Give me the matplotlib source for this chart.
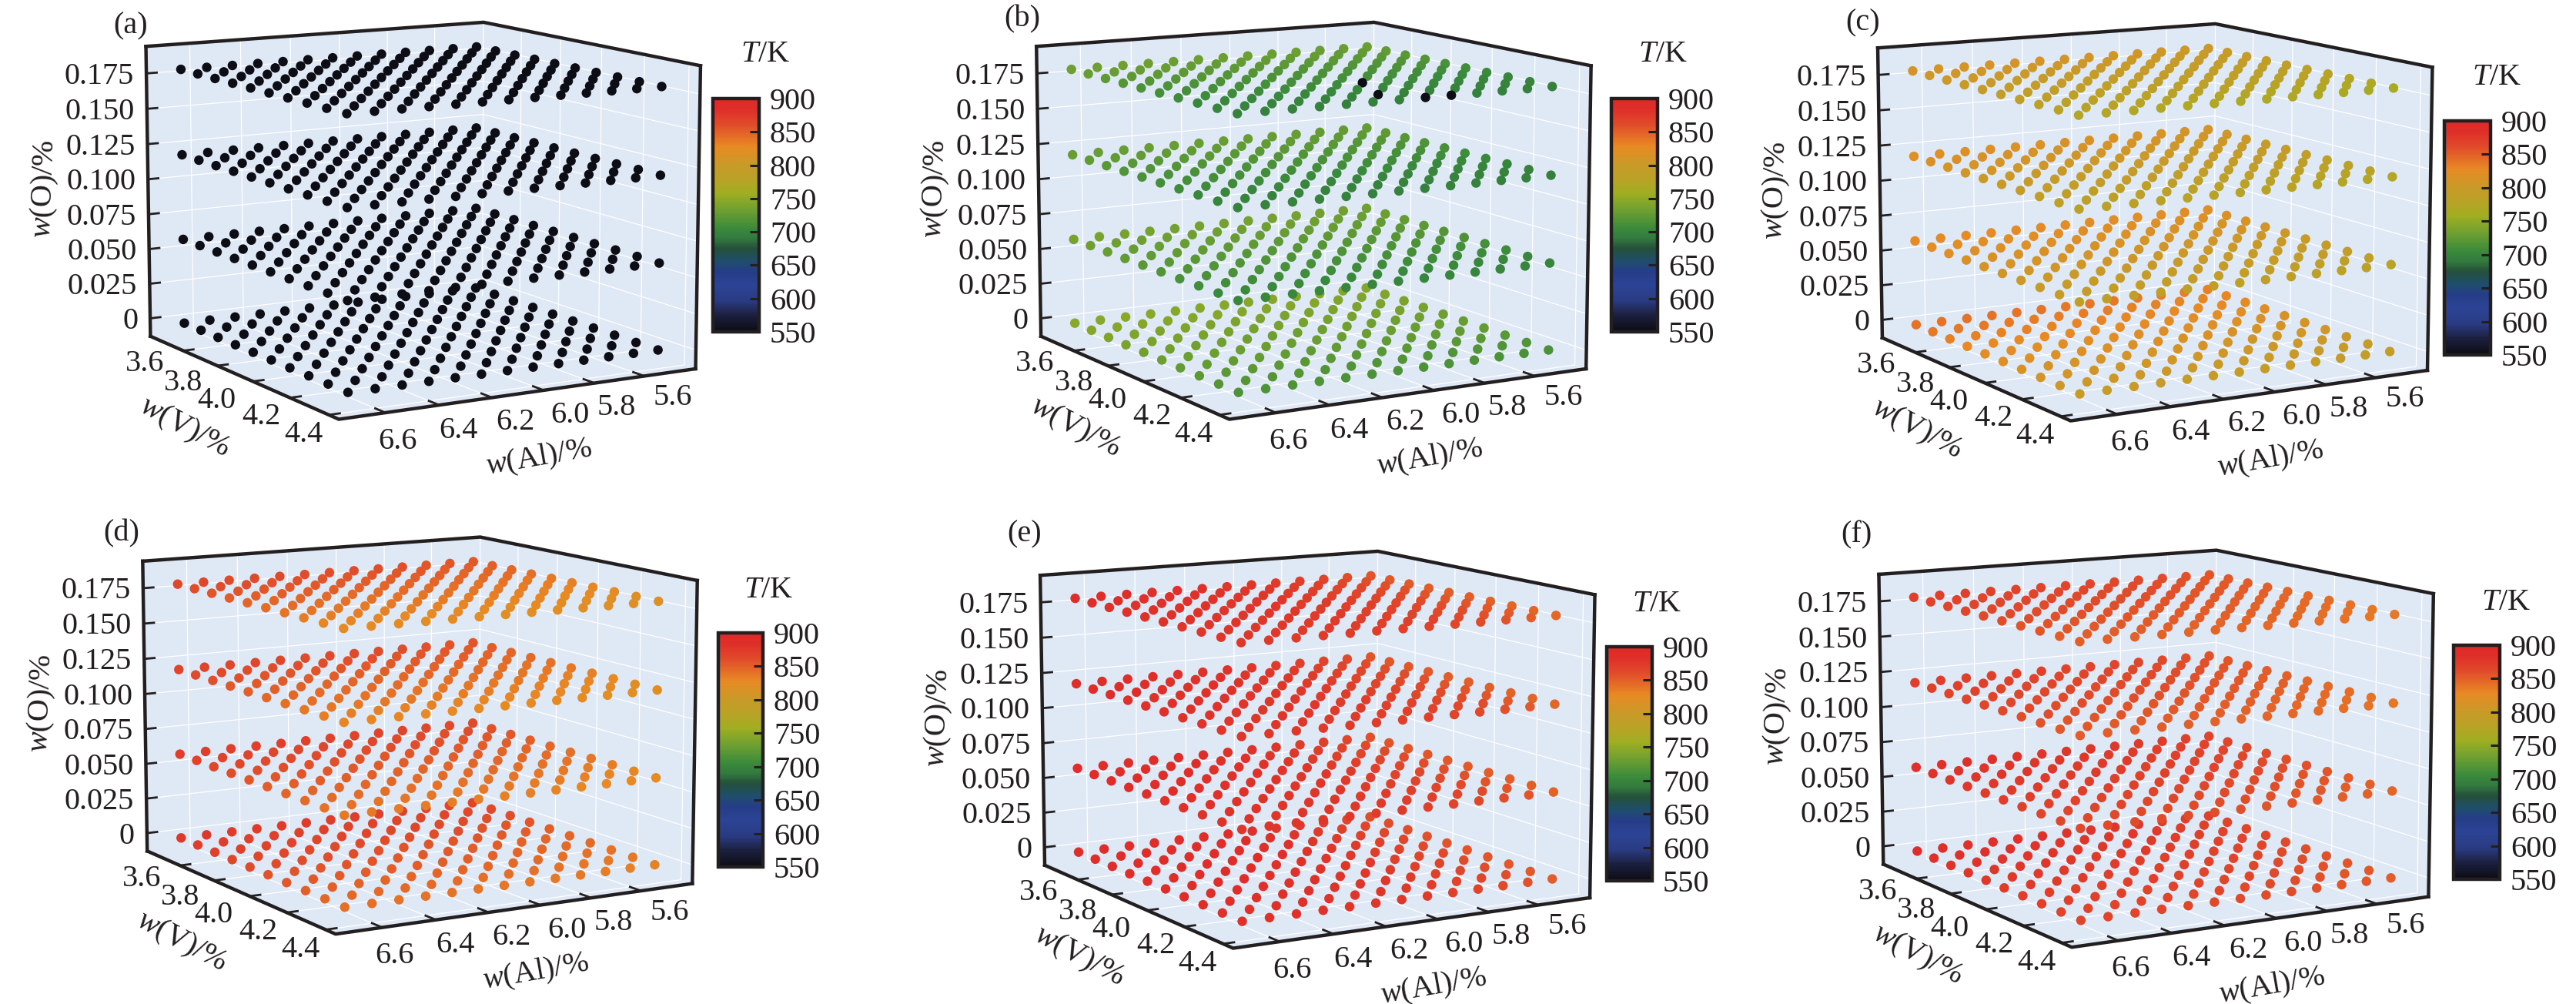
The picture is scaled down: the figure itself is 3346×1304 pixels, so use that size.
import numpy as np
import matplotlib
matplotlib.use('Agg')
import matplotlib.pyplot as plt
from matplotlib.cm import ScalarMappable
from matplotlib.colors import LinearSegmentedColormap, Normalize
from mpl_toolkits.mplot3d import proj3d
from mpl_toolkits.mplot3d.art3d import Poly3DCollection

plt.rcParams['font.family'] = ['Liberation Serif', 'DejaVu Sans']
plt.rcParams['mathtext.fontset'] = 'custom'
plt.rcParams['mathtext.rm'] = 'Liberation Serif'
plt.rcParams['mathtext.it'] = 'Liberation Serif:italic'

# composition grid of the points
al_vals = [6.7, 6.6, 6.5, 6.4, 6.3, 6.2, 6.1, 6.0, 5.9, 5.8, 5.7, 5.6, 5.5]
v_vals = [3.5, 3.6, 3.7, 3.8, 3.9, 4.0, 4.1, 4.2, 4.3, 4.4]
o_vals = [0, 0.06, 0.12, 0.18]

al_ticks = [6.6, 6.4, 6.2, 6.0, 5.8, 5.6]
v_ticks = [3.6, 3.8, 4.0, 4.2, 4.4]
o_ticks = [0, 0.025, 0.05, 0.075, 0.1, 0.125, 0.15, 0.175]
o_ticklabels = ['0', '0.025', '0.050', '0.075', '0.100', '0.125', '0.150', '0.175']
t_ticks = [550, 600, 650, 700, 750, 800, 850, 900]

# T: one row per oxygen level, one value per V level
T_a = [[552] * 10, [552] * 10, [552] * 10, [552] * 10]
T_b = [[745, 743, 740, 737, 733, 730, 726, 722, 718, 715],
       [735, 732, 728, 724, 720, 716, 712, 708, 704, 701],
       [728, 725, 721, 717, 713, 709, 705, 701, 699, 697],
       [731, 727, 723, 718, 714, 710, 706, 702, 699, 696]]
T_c = [[838, 834, 830, 825, 820, 815, 810, 806, 801, 797],
       [824, 820, 816, 812, 808, 804, 800, 796, 791, 786],
       [815, 811, 807, 803, 799, 795, 791, 787, 782, 778],
       [808, 804, 800, 796, 792, 788, 784, 780, 775, 770]]
T_d = [[872, 868, 865, 861, 857, 853, 850, 846, 842, 838],
       [868, 864, 860, 856, 852, 848, 844, 840, 836, 832],
       [862, 858, 854, 850, 846, 842, 838, 834, 830, 826],
       [860, 856, 852, 848, 843, 839, 835, 831, 826, 822]]
T_e = [[884, 884, 883, 882, 881, 880, 879, 878, 877, 876],
       [882, 881, 880, 879, 878, 877, 876, 875, 874, 873],
       [880, 879, 878, 877, 876, 875, 874, 873, 872, 871],
       [879, 878, 877, 876, 875, 874, 873, 872, 871, 870]]
T_f = [[880, 878, 876, 874, 872, 870, 868, 866, 864, 862],
       [878, 876, 874, 872, 870, 868, 865, 863, 860, 858],
       [868, 866, 864, 862, 860, 858, 855, 853, 850, 848],
       [866, 864, 862, 860, 858, 855, 853, 851, 848, 846]]

# shift along Al, high Al first
dT_a = [0] * 13
dT_b = [1, 1, 1, 1, 0, 0, 0, 0, 0, 0, -1, -1, -1]
dT_c = [3, 3, 2, 2, 1, 1, 0, 0, -1, -2, -3, -4, -5]
dT_d = [4, 4, 3, 2, 2, 1, 0, 0, -1, -2, -4, -5, -6]
dT_e = [6, 6, 5, 4, 3, 2, 0, -2, -5, -9, -13, -18, -24]
dT_f = [4, 4, 3, 3, 2, 1, 0, -1, -2, -4, -6, -8, -10]

# four stray cold points in the top layer of (b): (Al index, V index)
cold_b = [(7, 9), (8, 9), (6, 8), (7, 6)]

names = ['(a)', '(b)', '(c)', '(d)', '(e)', '(f)']
tables = [T_a, T_b, T_c, T_d, T_e, T_f]
shifts = [dT_a, dT_b, dT_c, dT_d, dT_e, dT_f]

# layout in pixels of the picture, y from the top
W, H = 3346, 1304
offsets = [(0, 0), (1156.7, 0), (2249.5, 2), (-4.2, 668.6), (1161.6, 687), (2250.9, 685.7)]
name_pos = [(170, 34), (1328, 25), (2420, 30), (158, 693), (1331, 694), (2411, 695)]
cbar_box = [(926, 128, 986, 431), (2093, 128, 2153, 431), (3175, 157, 3235, 461),
            (933, 822, 991, 1126), (2087, 840, 2146, 1144), (3187, 838, 3247, 1142)]
tk_pos = [(994, 71), (2160, 71), (3243, 101), (998, 767), (2152, 784), (3255, 782)]

v_off = [(-50, -17), (-44, -22), (-47, -25), (-37, -25), (-33, -26)]
al_off = [(16, -37), (25, -33), (30, -32), (34, -33), (29, -32), (37, -28)]

al_lim = (5.39, 6.77)
v_lim = (3.40, 4.45)
o_lim = (-0.013, 0.194)

cmap = LinearSegmentedColormap.from_list('temp', [
    (0.0, '#0c0c14'), (25 / 350, '#1c2040'), (45 / 350, '#2a3a80'), (70 / 350, '#2c4496'),
    (90 / 350, '#263c88'), (105 / 350, '#1f4d6e'), (125 / 350, '#25503a'), (140 / 350, '#337a3f'),
    (155 / 350, '#3a8a3c'), (180 / 350, '#6a9e32'), (208 / 350, '#a0ae22'), (228 / 350, '#b8a326'),
    (250 / 350, '#c89a28'), (278 / 350, '#e88a24'), (295 / 350, '#e46a28'), (312 / 350, '#e04a2a'),
    (335 / 350, '#df2e2a'), (1.0, '#de2a28')])
norm = Normalize(550, 900)

fig = plt.figure(figsize=(W / 100, H / 100), dpi=100)

edge = '#231f20'
pane = '#dfe8f5'
fs = 29


def w_label(s):
    return '$\\mathit{w}$(' + s + ')/%'


for n in range(6):
    dx, dy = offsets[n]
    # axes square found from the camera fit of panel (a)
    left = 124.8 + dx
    bottom = 620.8 - dy
    side = 811.25
    ax = fig.add_axes([left / W, bottom / H, side / W, side / H], projection='3d', computed_zorder=False)
    ax.view_init(elev=10.29, azim=59.75)
    ax.set_proj_type('persp', focal_length=0.924)
    ax.set_box_aspect((1.3327, 1.3374, 1.0))
    ax.set_xlim(al_lim)
    ax.set_ylim(v_lim)
    ax.set_zlim(o_lim)
    ax.set_axis_off()
    ax.patch.set_visible(False)

    a0, a1 = al_lim
    v0, v1 = v_lim
    z0, z1 = o_lim

    walls = [[(a1, v0, z0), (a0, v0, z0), (a0, v0, z1), (a1, v0, z1)],
             [(a0, v0, z0), (a0, v1, z0), (a0, v1, z1), (a0, v0, z1)],
             [(a0, v0, z0), (a1, v0, z0), (a1, v1, z0), (a0, v1, z0)]]
    ax.add_collection3d(Poly3DCollection(walls, facecolors=pane, edgecolors=pane, linewidths=0.5, zorder=1))

    # white grid on the walls and the floor
    grid = dict(color='white', lw=0.9, zorder=2)
    for o in o_ticks:
        ax.plot([a1, a0, a0], [v0, v0, v1], [o, o, o], **grid)
    for al in al_ticks:
        ax.plot([al, al, al], [v1, v0, v0], [z0, z0, z1], **grid)
    for v in v_ticks:
        ax.plot([a1, a0, a0], [v, v, v], [z0, z0, z1], **grid)
    ax.plot([a0, a0], [v0, v0], [z0, z1], **grid)

    # points
    A, V, O, T = [], [], [], []
    for k, o in enumerate(o_vals):
        for i, al in enumerate(al_vals):
            for j, v in enumerate(v_vals):
                A.append(al)
                V.append(v)
                O.append(o)
                t = tables[n][k][j] + shifts[n][i]
                if n == 1 and k == 3 and (i, j) in cold_b:
                    t = 552
                T.append(t)
    ax.scatter(A, V, O, c=T, cmap=cmap, norm=norm, s=80, linewidths=0, depthshade=False, zorder=3)

    # box edges
    box = dict(color=edge, lw=3.2, zorder=5, solid_capstyle='projecting')
    ax.plot([a1, a0, a0], [v0, v0, v1], [z1, z1, z1], **box)
    ax.plot([a1, a1], [v0, v0], [z0, z1], **box)
    ax.plot([a0, a0], [v1, v1], [z0, z1], **box)
    ax.plot([a1, a1, a0], [v0, v1, v1], [z0, z0, z0], **box)

    # ticks and their labels
    tick = dict(color=edge, lw=2.0, zorder=5)
    M = ax.get_proj()
    for o, lab in zip(o_ticks, o_ticklabels):
        ax.plot([a1, a1 - 0.04], [v0, v0], [o, o], **tick)
        x, y, _ = proj3d.proj_transform(a1, v0, o, M)
        ax.annotate(lab, (x, y), xytext=(-16, -4), textcoords='offset pixels', ha='right', va='center',
                    fontsize=fs, color=edge, annotation_clip=False)
    for v, off in zip(v_ticks, v_off):
        ax.plot([a1, a1 - 0.04], [v, v], [z0, z0], **tick)
        x, y, _ = proj3d.proj_transform(a1, v, z0, M)
        ax.annotate(f'{v:.1f}', (x, y), xytext=off, textcoords='offset pixels', ha='center', va='center',
                    fontsize=fs, color=edge, annotation_clip=False)
    for al, off in zip(al_ticks, al_off):
        ax.plot([al, al], [v1, v1 - 0.05], [z0, z0], **tick)
        x, y, _ = proj3d.proj_transform(al, v1, z0, M)
        ax.annotate(f'{al:.1f}', (x, y), xytext=off, textcoords='offset pixels', ha='center', va='center',
                    fontsize=fs, color=edge, annotation_clip=False)

    # axis titles
    fig.text((58 + dx) / W, 1 - (245 + dy) / H, w_label('O'), rotation=88, ha='center', va='center',
             fontsize=fs, color=edge)
    fig.text((240 + dx) / W, 1 - (555 + dy) / H, w_label('V'), rotation=-28, ha='center', va='center',
             fontsize=fs, color=edge)
    fig.text((700 + dx) / W, 1 - (595 + dy) / H, w_label('Al'), rotation=10, ha='center', va='center',
             fontsize=fs, color=edge)
    fig.text(name_pos[n][0] / W, 1 - name_pos[n][1] / H, names[n], ha='center', va='center',
             fontsize=fs, color=edge)

    # colour bar
    x0, y0, x1, y1 = cbar_box[n]
    cax = fig.add_axes([x0 / W, 1 - y1 / H, (x1 - x0) / W, (y1 - y0) / H])
    cb = fig.colorbar(ScalarMappable(norm=norm, cmap=cmap), cax=cax, ticks=t_ticks)
    cb.outline.set_linewidth(3.2)
    cb.outline.set_edgecolor(edge)
    cax.tick_params(direction='in', length=9, width=2.2, color=edge, labelsize=fs, labelcolor=edge, pad=10)
    fig.text(tk_pos[n][0] / W, 1 - tk_pos[n][1] / H, '$\\mathit{T}$/K', ha='center', va='center',
             fontsize=fs, color=edge)

fig.savefig('out.png', dpi=100)
